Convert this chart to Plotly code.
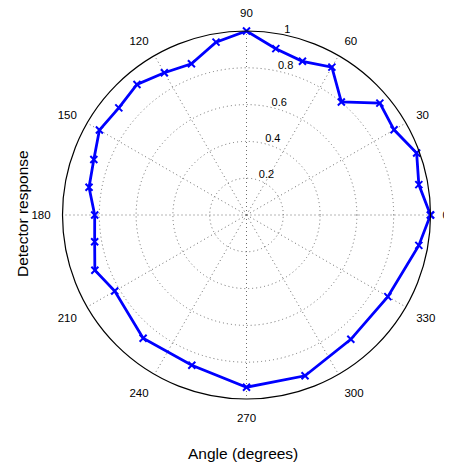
import plotly.graph_objects as go

angles_deg = [0, 10, 20, 30, 40, 50, 60, 70, 80, 90, 100, 110, 120, 130, 140, 150,
              160, 170, 180, 190, 200, 210, 230, 250, 270, 290, 310, 330, 350]
response = [1.0, 0.951, 0.984, 0.926, 0.946, 0.802, 0.928, 0.889, 0.918, 1.0, 0.954,
            0.875, 0.893, 0.926, 0.906, 0.923, 0.883, 0.869, 0.825, 0.838, 0.877,
            0.827, 0.874, 0.869, 0.936, 0.930, 0.882, 0.887, 0.951]
radial_ticks = [0.2, 0.4, 0.6, 0.8, 1]
angle_ticks = list(range(0, 360, 30))

theta = angles_deg + [angles_deg[0]]
r = response + [response[0]]

FONT = "Liberation Sans, Arial, sans-serif"
# page body has an 8px default margin; figure placed accordingly
OFF = 8
W, H = 452 - OFF, 468 - OFF
L, R, T, B = 62 - OFF, 21, 31 - OFF, 69
PW, PH = W - L - R, H - T - B


def px(x):
    return (x - OFF - L) / PW


def py(y):
    return (H - B - (y - OFF)) / PH


fig = go.Figure()
fig.add_trace(go.Scatterpolar(
    r=r, theta=theta, mode="lines+markers",
    line=dict(color="rgb(0,0,255)", width=2.8),
    marker=dict(symbol="x-thin", size=7, line=dict(color="rgb(0,0,255)", width=2)),
    showlegend=False, cliponaxis=False,
))

grid_dash = "1px,3px"
fig.update_layout(
    width=W, height=H,
    margin=dict(l=L, r=R, t=T, b=B, autoexpand=False),
    paper_bgcolor="white",
    font=dict(family=FONT, size=11, color="black"),
    polar=dict(
        domain=dict(x=[0, 1], y=[0, 1]),
        bgcolor="white",
        radialaxis=dict(
            range=[0, 1], tickvals=radial_ticks,
            ticktext=[f"{v}<br> " for v in radial_ticks],
            angle=80, tickangle=80, showline=False, ticks="",
            gridcolor="rgb(110,110,110)", griddash=grid_dash, gridwidth=1,
            tickfont=dict(size=11, family=FONT), side="clockwise",
        ),
        angularaxis=dict(
            tickvals=angle_ticks, ticktext=[str(a) for a in angle_ticks],
            direction="counterclockwise", rotation=0,
            showline=True, linecolor="black", linewidth=1.2,
            gridcolor="rgb(110,110,110)", griddash=grid_dash, gridwidth=1,
            ticks="outside", ticklen=9, tickcolor="rgba(0,0,0,0)",
            tickfont=dict(size=11.5, family=FONT),
        ),
    ),
    annotations=[
        dict(text="Detector response", x=px(22), y=py(214), xref="paper", yref="paper",
             textangle=-90, showarrow=False, font=dict(size=15.5, family=FONT),
             xanchor="center", yanchor="middle"),
        dict(text="Angle (degrees)", x=px(243), y=py(453), xref="paper", yref="paper",
             showarrow=False, font=dict(size=15.5, family=FONT),
             xanchor="center", yanchor="middle"),
    ],
)

fig.write_html("out.html")
